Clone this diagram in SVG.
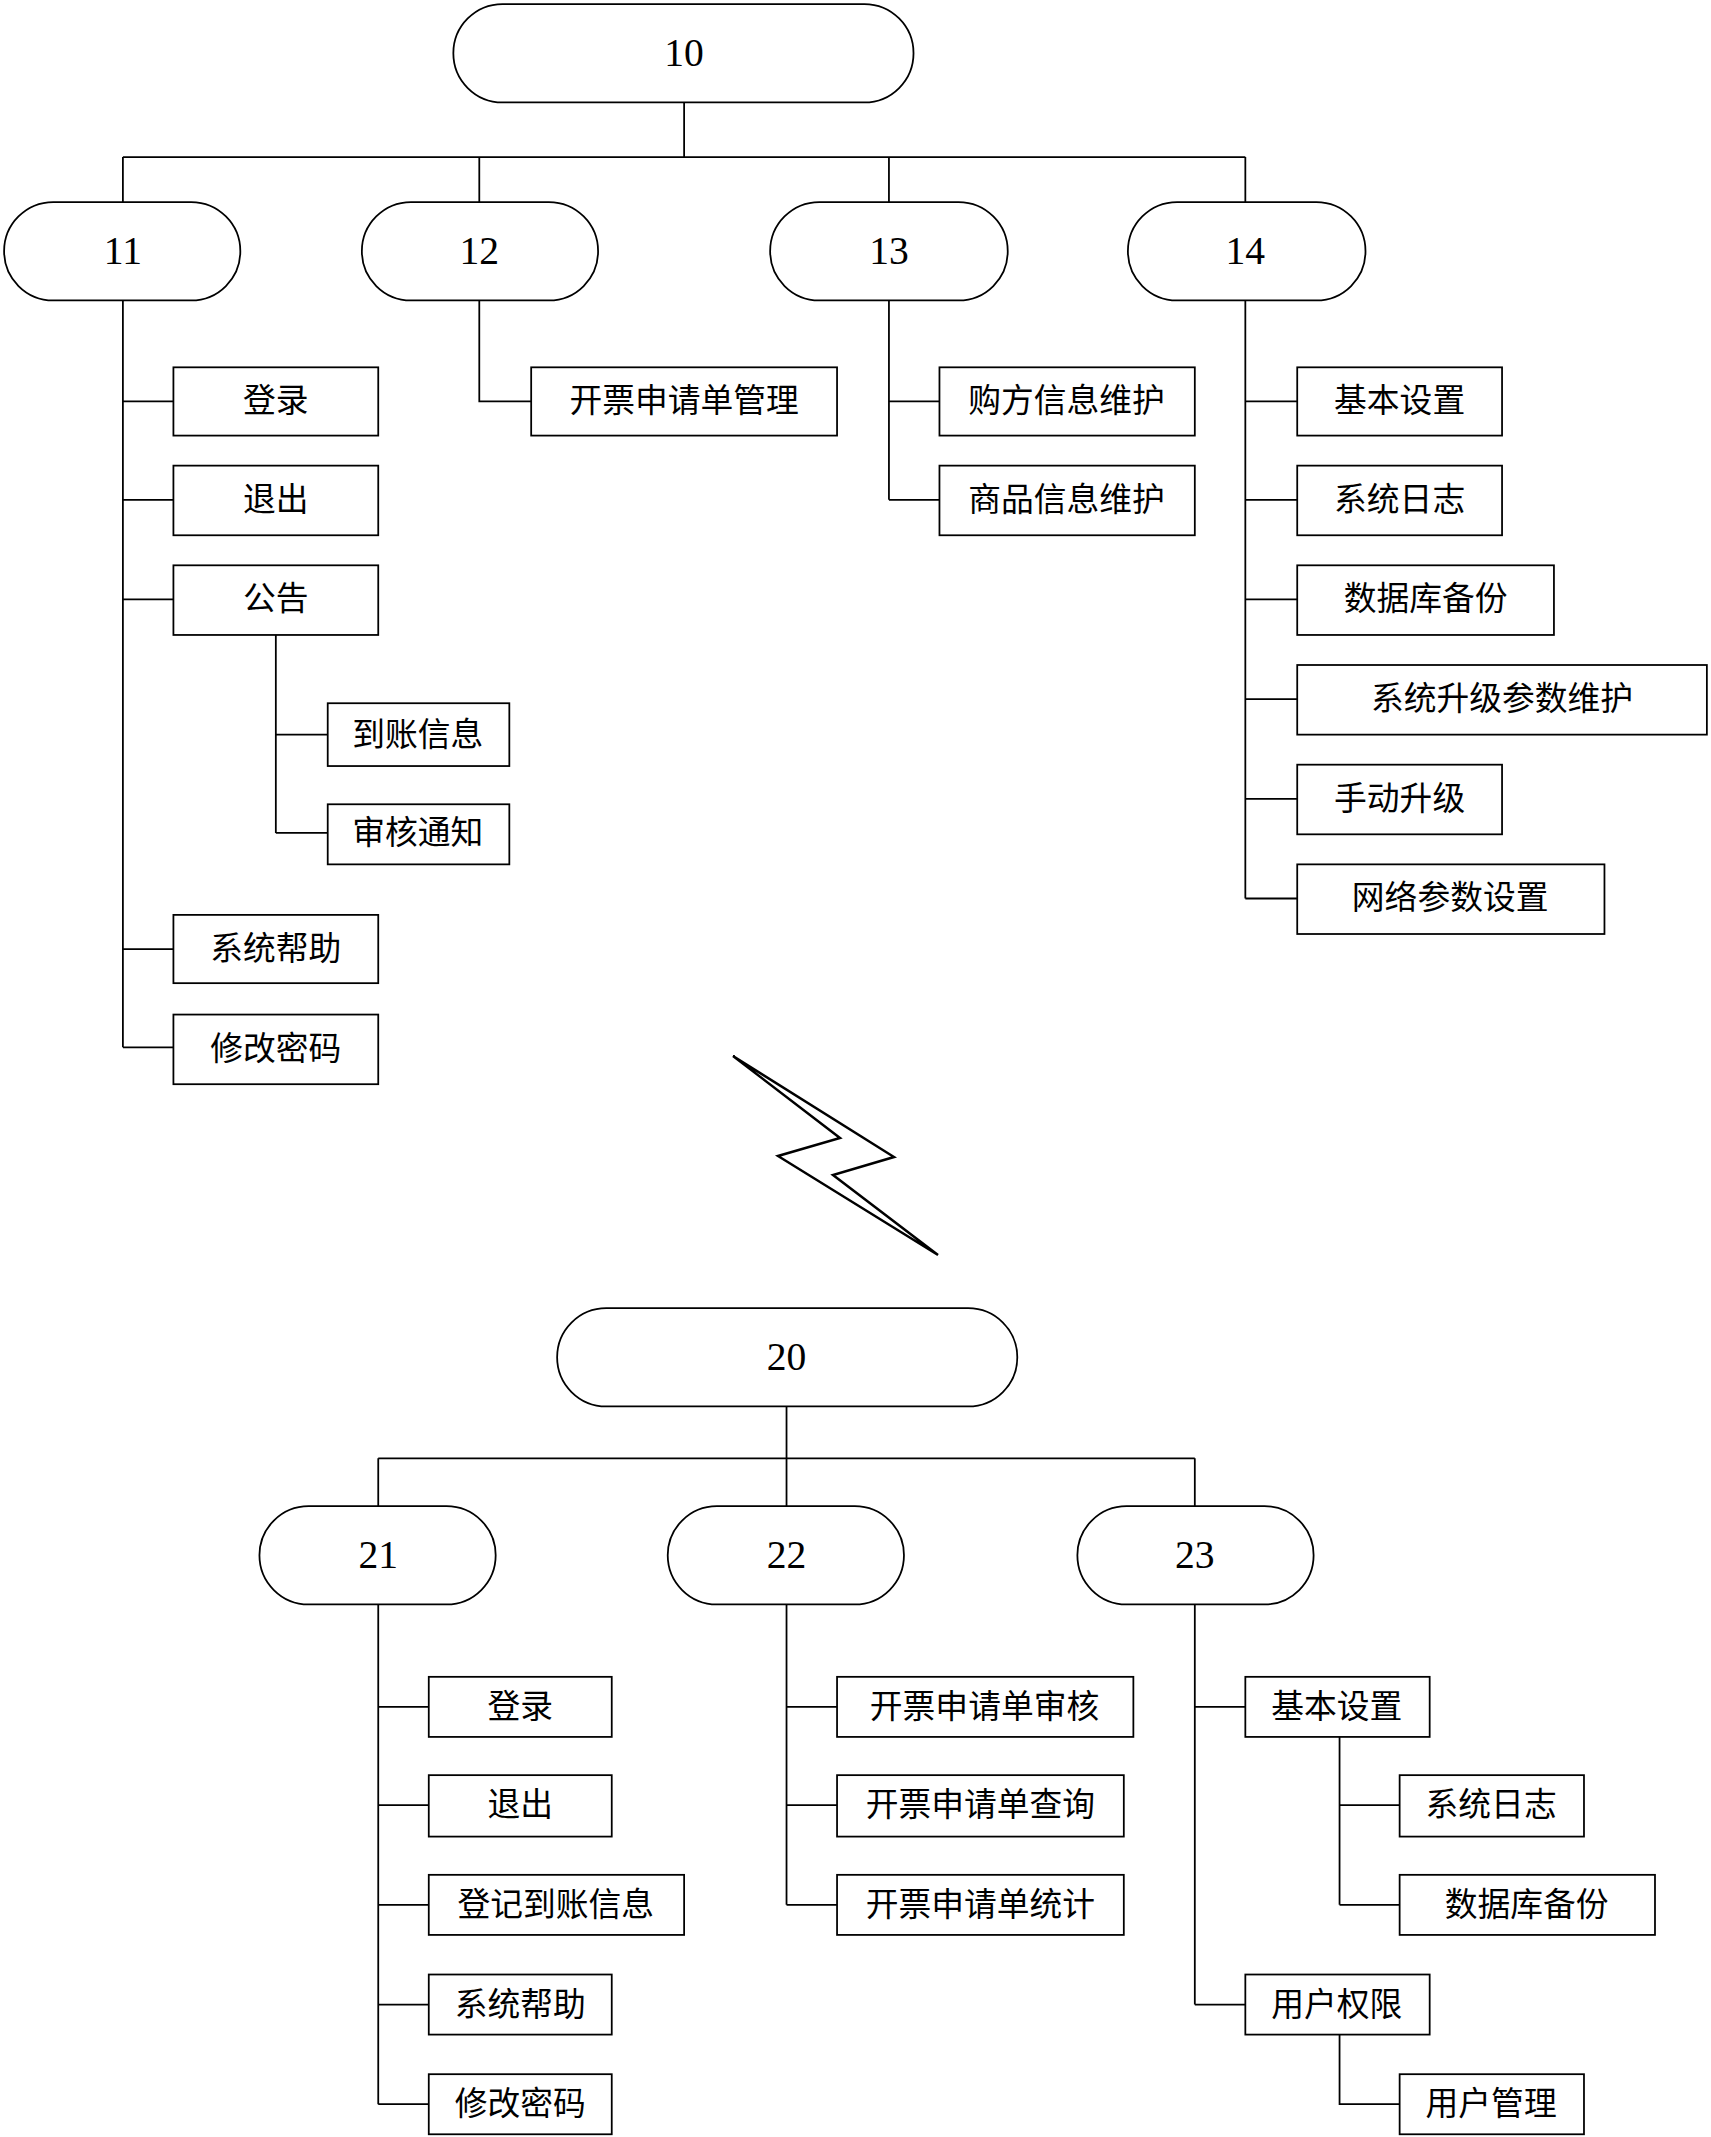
<svg xmlns="http://www.w3.org/2000/svg" width="1711" height="2137" viewBox="0 0 1711 2137">
<style>
.n rect{fill:#fff;stroke:#000;stroke-width:1.3}
.n text{font-family:"Liberation Serif","Noto Sans CJK SC",serif;font-size:24px;text-anchor:middle;dominant-baseline:central}
.n text.num{font-size:29px}
#conn{stroke:#000;stroke-width:1.3;fill:none}
</style>
<rect width="1711" height="2137" fill="#fff"/>
<g transform="scale(1.3655)">
<g id="conn">
<path d="M501 75V115M90 115H912M90 115V148M351 115V148M651 115V148M912 115V148"/>
<path d="M90 220V767M90 294H127M90 366H127M90 439H127M90 695H127M90 767H127"/>
<path d="M202 465V610M202 538H240M202 610H240"/>
<path d="M351 220V294H389"/>
<path d="M651 220V366M651 294H688M651 366H688"/>
<path d="M912 220V658M912 294H950M912 366H950M912 439H950M912 512H950M912 585H950M912 658H950"/>
<path d="M576 1030V1068M277 1068H875M277 1068V1103M576 1068V1103M875 1068V1103"/>
<path d="M277 1175V1541M277 1250H314M277 1322H314M277 1395H314M277 1468H314M277 1541H314"/>
<path d="M576 1175V1395M576 1250H613M576 1322H613M576 1395H613"/>
<path d="M875 1175V1468M875 1250H912M875 1468H912M981 1272V1395M981 1322H1025M981 1395H1025M981 1490V1541H1025"/>
</g>
<g id="n10" class="n"><rect x="332" y="3" width="337" height="72" rx="36"/><text class="num" x="501" y="39">10</text></g>
<g id="n11" class="n"><rect x="3" y="148" width="173" height="72" rx="36"/><text class="num" x="90" y="184">11</text></g>
<g id="n12" class="n"><rect x="265" y="148" width="173" height="72" rx="36"/><text class="num" x="351" y="184">12</text></g>
<g id="n13" class="n"><rect x="564" y="148" width="174" height="72" rx="36"/><text class="num" x="651" y="184">13</text></g>
<g id="n14" class="n"><rect x="826" y="148" width="174" height="72" rx="36"/><text class="num" x="912" y="184">14</text></g>
<g id="a1" class="n"><rect x="127" y="269" width="150" height="50"/><text x="202" y="294">登录</text></g>
<g id="a2" class="n"><rect x="127" y="341" width="150" height="51"/><text x="202" y="366">退出</text></g>
<g id="a3" class="n"><rect x="127" y="414" width="150" height="51"/><text x="202" y="439">公告</text></g>
<g id="a4" class="n"><rect x="240" y="515" width="133" height="46"/><text x="306" y="538">到账信息</text></g>
<g id="a5" class="n"><rect x="240" y="589" width="133" height="44"/><text x="306" y="610">审核通知</text></g>
<g id="a6" class="n"><rect x="127" y="670" width="150" height="50"/><text x="202" y="695">系统帮助</text></g>
<g id="a7" class="n"><rect x="127" y="743" width="150" height="51"/><text x="202" y="768">修改密码</text></g>
<g id="b1" class="n"><rect x="389" y="269" width="224" height="50"/><text x="501" y="294">开票申请单管理</text></g>
<g id="c1" class="n"><rect x="688" y="269" width="187" height="50"/><text x="781" y="294">购方信息维护</text></g>
<g id="c2" class="n"><rect x="688" y="341" width="187" height="51"/><text x="781" y="366">商品信息维护</text></g>
<g id="d1" class="n"><rect x="950" y="269" width="150" height="50"/><text x="1025" y="294">基本设置</text></g>
<g id="d2" class="n"><rect x="950" y="341" width="150" height="51"/><text x="1025" y="366">系统日志</text></g>
<g id="d3" class="n"><rect x="950" y="414" width="188" height="51"/><text x="1044" y="439">数据库备份</text></g>
<g id="d4" class="n"><rect x="950" y="487" width="300" height="51"/><text x="1100" y="512">系统升级参数维护</text></g>
<g id="d5" class="n"><rect x="950" y="560" width="150" height="51"/><text x="1025" y="585">手动升级</text></g>
<g id="d6" class="n"><rect x="950" y="633" width="225" height="51"/><text x="1062" y="658">网络参数设置</text></g>
<g id="n20" class="n"><rect x="408" y="958" width="337" height="72" rx="36"/><text class="num" x="576" y="994">20</text></g>
<g id="n21" class="n"><rect x="190" y="1103" width="173" height="72" rx="36"/><text class="num" x="277" y="1139">21</text></g>
<g id="n22" class="n"><rect x="489" y="1103" width="173" height="72" rx="36"/><text class="num" x="576" y="1139">22</text></g>
<g id="n23" class="n"><rect x="789" y="1103" width="173" height="72" rx="36"/><text class="num" x="875" y="1139">23</text></g>
<g id="e1" class="n"><rect x="314" y="1228" width="134" height="44"/><text x="381" y="1250">登录</text></g>
<g id="e2" class="n"><rect x="314" y="1300" width="134" height="45"/><text x="381" y="1322">退出</text></g>
<g id="e3" class="n"><rect x="314" y="1373" width="187" height="44"/><text x="407" y="1395">登记到账信息</text></g>
<g id="e4" class="n"><rect x="314" y="1446" width="134" height="44"/><text x="381" y="1468">系统帮助</text></g>
<g id="e5" class="n"><rect x="314" y="1519" width="134" height="44"/><text x="381" y="1541">修改密码</text></g>
<g id="f1" class="n"><rect x="613" y="1228" width="217" height="44"/><text x="721" y="1250">开票申请单审核</text></g>
<g id="f2" class="n"><rect x="613" y="1300" width="210" height="45"/><text x="718" y="1322">开票申请单查询</text></g>
<g id="f3" class="n"><rect x="613" y="1373" width="210" height="44"/><text x="718" y="1395">开票申请单统计</text></g>
<g id="g1" class="n"><rect x="912" y="1228" width="135" height="44"/><text x="979" y="1250">基本设置</text></g>
<g id="g2" class="n"><rect x="1025" y="1300" width="135" height="45"/><text x="1092" y="1322">系统日志</text></g>
<g id="g3" class="n"><rect x="1025" y="1373" width="187" height="44"/><text x="1118" y="1395">数据库备份</text></g>
<g id="g4" class="n"><rect x="912" y="1446" width="135" height="44"/><text x="979" y="1468">用户权限</text></g>
<g id="g5" class="n"><rect x="1025" y="1519" width="135" height="44"/><text x="1092" y="1541">用户管理</text></g>
</g>
<polygon points="733,1056 894,1157 833,1175 938,1255 778,1156 840,1138" fill="none" stroke="#000" stroke-width="2.5" stroke-linejoin="miter"/>
</svg>
